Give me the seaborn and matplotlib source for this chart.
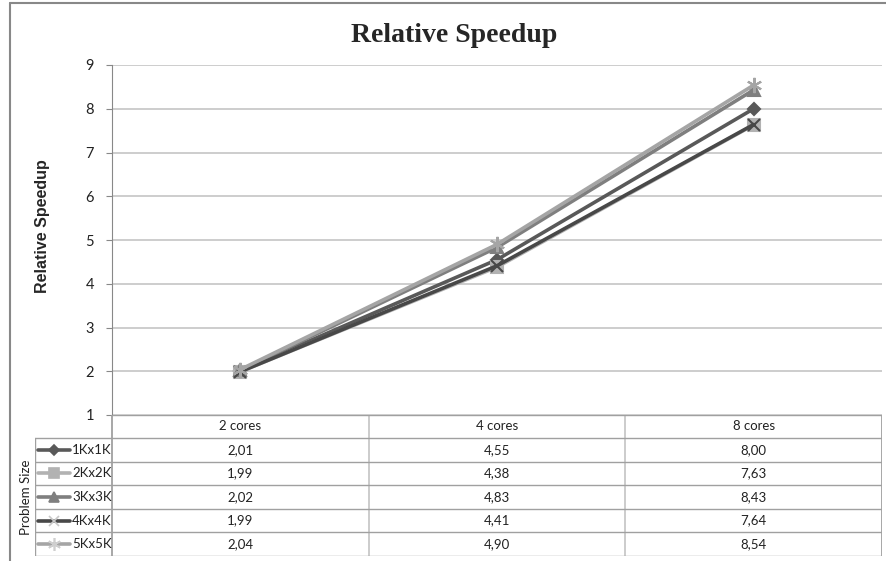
import matplotlib
matplotlib.use("Agg")
import matplotlib.pyplot as plt
from matplotlib.lines import Line2D
import seaborn as sns
import pandas as pd

# ---- data ----
cores = ["2 cores", "4 cores", "8 cores"]
sizes = ["1Kx1K", "2Kx2K", "3Kx3K", "4Kx4K", "5Kx5K"]
s1k = [2.01, 4.55, 8.00]
s2k = [1.99, 4.38, 7.63]
s3k = [2.02, 4.83, 8.43]
s4k = [1.99, 4.41, 7.64]
s5k = [2.04, 4.90, 8.54]
yticks = [1, 2, 3, 4, 5, 6, 7, 8, 9]
title = "Relative Speedup"
ylabel = "Relative Speedup"
table_title = "Problem Size"

series = [s1k, s2k, s3k, s4k, s5k]
colors = {"1Kx1K": "#595959", "2Kx2K": "#b2b2b2", "3Kx3K": "#7f7f7f",
          "4Kx4K": "#484848", "5Kx5K": "#a5a5a5"}
markers = {"1Kx1K": "D", "2Kx2K": "s", "3Kx3K": "^", "4Kx4K": "x", "5Kx5K": (6, 2, 0)}
msizes = {"1Kx1K": 6, "2Kx2K": 8, "3Kx3K": 8, "4Kx4K": 9, "5Kx5K": 11}
legend_mcol = {"1Kx1K": "#595959", "2Kx2K": "#b2b2b2", "3Kx3K": "#7f7f7f",
               "4Kx4K": "#c8c8c8", "5Kx5K": "#cfcfcf"}

rows = []
for name, vals in zip(sizes, series):
    for c, v in zip(cores, vals):
        rows.append({"cores": c, "speedup": v, "size": name})
df = pd.DataFrame(rows)

sns.set_style("white")
plt.rcParams["font.family"] = ["Lato", "DejaVu Sans"]

W, H = 886, 561
fig = plt.figure(figsize=(W / 100, H / 100), dpi=100)

PL, PR, PT, PB = 112, 882, 65, 415
ax = fig.add_axes([PL / W, 1 - PB / H, (PR - PL) / W, (PB - PT) / H])

for name in sizes:
    sub = df[df["size"] == name]
    sns.lineplot(data=sub, x="cores", y="speedup", color=colors[name],
                 marker=markers[name], markersize=msizes[name],
                 markeredgecolor=colors[name], markerfacecolor=colors[name],
                 markeredgewidth=1.5, linewidth=2.6, legend=False,
                 sort=False, ax=ax)

ax.set_xlim(-0.5, len(cores) - 0.5)
ax.set_ylim(yticks[0], yticks[-1])
ax.set_yticks(yticks)
ax.set_yticklabels([str(t) for t in yticks], fontsize=10.5, color="#222222")
ax.set_xticks([])
ax.set_xlabel("")
ax.set_ylabel("")
ax.yaxis.grid(True, color="#c0c0c0", linewidth=1.1)
ax.set_axisbelow(True)
for sp in ["top", "right", "bottom"]:
    ax.spines[sp].set_visible(False)
ax.spines["left"].set_color("#888888")
ax.tick_params(axis="y", left=True, length=4, color="#888888", pad=9)

# title & y label
fig.text(454 / W, 1 - 36 / H, title, ha="center", va="center",
         fontsize=20, fontweight="bold", family=["Liberation Serif"])
fig.text(43 / W, 1 - 226 / H, ylabel, ha="center", va="center",
         rotation=90, fontsize=11.5, fontweight="bold", family=["Liberation Sans"])

# ---- data table ----
TL, TR, TT, TB = 35, PR, PB, 556
tax = fig.add_axes([TL / W, 1 - TB / H, (TR - TL) / W, (TB - TT) / H])
tax.set_xlim(TL, TR)
tax.set_ylim(TB, TT)
tax.axis("off")
lc = "#a0a0a0"
lcv = "#c8c8c8"
colw = (PR - PL) / len(cores)
hdr_b = 438
rowh = (TB - hdr_b) / len(sizes)
for j in range(len(cores) + 1):
    x = PL + j * colw
    tax.plot([x, x], [TT, TB], color=lcv if 0 < j < len(cores) else lc, lw=1.3)
tax.plot([TL, TL], [hdr_b, TB], color=lc, lw=1)
tax.plot([PL, PR], [TT, TT], color=lc, lw=1)
for i in range(len(sizes) + 1):
    y = hdr_b + i * rowh
    tax.plot([TL, PR], [y, y], color=lc, lw=1)
for j, c in enumerate(cores):
    tax.text(PL + (j + 0.5) * colw, (TT + hdr_b) / 2, c, ha="center", va="center",
             fontsize=9.5, color="#222222")
for i, (name, vals) in enumerate(zip(sizes, series)):
    yc = hdr_b + (i + 0.5) * rowh
    tax.add_line(Line2D([38, 70], [yc, yc], color=colors[name], lw=2.6))
    tax.add_line(Line2D([54], [yc], marker=markers[name], color=legend_mcol[name],
                        markersize=msizes[name] * 0.85, markeredgewidth=1.2, lw=0))
    tax.text(72, yc, name, ha="left", va="center", fontsize=9.5, color="#222222")
    for j, v in enumerate(vals):
        tax.text(PL + (j + 0.5) * colw, yc, f"{v:.2f}".replace(".", ","),
                 ha="center", va="center", fontsize=9.5, color="#222222")
fig.text(26 / W, 1 - 497 / H, table_title, ha="center", va="center", rotation=90,
         fontsize=9.5, color="#222222")

# outer chart frame (partially cropped)
fig.add_artist(Line2D([10 / W, 10 / W], [0, 1 - 3 / H], color="#888888", lw=1.5))
fig.add_artist(Line2D([10 / W, 1], [1 - 3 / H, 1 - 3 / H], color="#888888", lw=1.5))

fig.savefig("out.png", dpi=100, facecolor="white")
